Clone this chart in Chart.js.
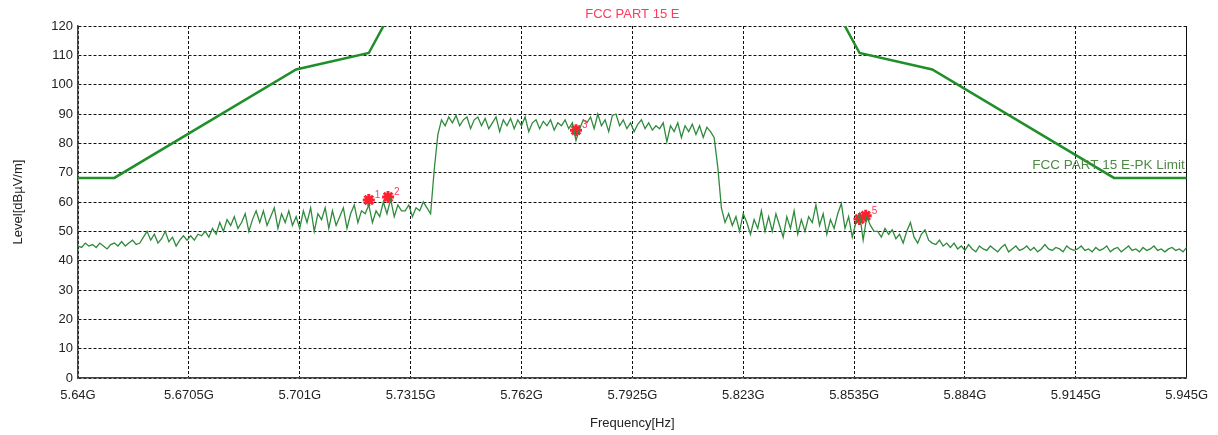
<!DOCTYPE html>
<html>
<head>
<meta charset="utf-8">
<script src="https://cdn.jsdelivr.net/npm/chart.js@4"></script>
<style>
  html, body { margin: 0; padding: 0; background: #fff; }
  #wrap { width: 1218px; height: 435px; position: relative; }
</style>
</head>
<body>
<div id="wrap"><canvas id="scan"></canvas></div>
<script>
// FCC 15.407 peak limit corners (GHz / dBuV/m)
const limitFreq  = [5.640, 5.650, 5.700, 5.720, 5.725, 5.850, 5.855, 5.875, 5.925, 5.945];
const limitLevel = [68.2, 68.2, 105.2, 110.8, 122.2, 122.2, 110.8, 105.2, 68.2, 68.2];

// measured sweep, 1 MHz per point starting at 5.640 GHz
const traceStart = 5.640;
const traceStep = 0.001;
const traceLevel = [
  45, 44.5, 46, 45, 45.5, 44.5, 46, 45, 44, 45.5,
  46, 45, 46.5, 45, 46, 47, 45.5, 46, 48, 50,
  47, 49, 46, 47.5, 50, 46.5, 48, 45, 47, 48.5,
  47, 48.5, 47, 49, 48.5, 50, 48, 51, 49, 53,
  50, 54, 52, 55, 51, 53, 56, 50, 54, 57,
  53, 57, 52, 55, 58, 51, 56, 53, 57, 52,
  55, 51, 57, 53, 58, 50, 56, 54, 58, 51,
  57, 52, 55, 58, 51, 56, 59, 53, 57, 56,
  59, 53, 57, 55, 60, 56, 61, 55, 59, 57,
  57, 59, 55, 58, 57, 60, 58, 56, 71, 83,
  88, 86, 89, 87, 89.5, 86, 88, 89, 85, 88,
  89, 86, 88.5, 85, 87, 89, 84, 88, 86, 88.5,
  85, 88, 86, 89, 84, 87, 88, 85, 87.5, 86,
  88, 84.5, 87, 86, 88, 85, 87, 81, 85, 88,
  87, 89, 85, 90, 86, 88, 84, 89.5, 90, 86,
  88, 85, 87, 84, 86.5, 88, 85, 87, 84.5, 86,
  85, 87, 80.5, 86, 84, 87, 82, 86, 84, 86.5,
  83, 86, 82, 85.5, 84, 82, 72, 58, 53, 56,
  52, 55, 50, 56, 53, 49, 54, 51, 57, 50,
  55, 50, 56, 52, 48, 55, 51, 57, 49, 54,
  50, 55, 53, 59, 52, 56, 49, 54, 51, 56,
  59.5, 51, 55, 48, 53, 56, 47, 55, 52, 50,
  50, 48, 51, 49, 50.5, 47.5, 49, 46, 50, 53,
  48, 46, 49, 50.5, 47, 46, 45.5, 47, 45, 46,
  44.5, 46, 44, 45, 43.5, 45.5, 44, 43, 45, 44,
  43.5, 45, 44, 43, 44.5, 45.5, 43, 44, 45, 43.5,
  44, 45, 43.5, 44.5, 43, 44, 45.5, 44, 43.5, 44.5,
  44, 43, 45, 44, 43.5, 44, 45, 43.5, 44, 43,
  44.5, 43.5, 44, 45, 43, 44, 44.5, 43, 44, 45,
  43.5, 44, 43, 44.5, 43.5, 44, 45, 43.5, 44, 43,
  44, 44.5, 43.5, 44, 43, 44.5
];

// peak markers (label of marker 4 sits under marker 5)
const markerFreq  = [5.7200, 5.7253, 5.7770, 5.8550, 5.8567];
const markerLevel = [60.7, 61.7, 84.5, 54.2, 55.3];
const markerLabel = ['1', '2', '3', '', '5'];

const xTickValues = [5.64, 5.6705, 5.701, 5.7315, 5.762, 5.7925, 5.823, 5.8535, 5.884, 5.9145, 5.945];
const xTickLabels = ['5.64G', '5.6705G', '5.701G', '5.7315G', '5.762G', '5.7925G', '5.823G', '5.8535G', '5.884G', '5.9145G', '5.945G'];

const chartTitle = 'FCC PART 15 E';
const limitName = 'FCC PART 15 E-PK Limit';

const FONT = '"Liberation Sans", Arial, sans-serif';

const limitPoints = limitFreq.map((f, i) => ({ x: f, y: limitLevel[i] }));
const tracePoints = traceLevel.map((v, i) => ({ x: traceStart + i * traceStep, y: v }));
const markerPoints = markerFreq.map((f, i) => ({ x: f, y: markerLevel[i] }));

const textPlugin = {
  id: 'scanText',
  afterDraw(chart) {
    const { ctx, chartArea } = chart;
    ctx.save();
    // heading above the plot
    ctx.font = '13px ' + FONT;
    ctx.fillStyle = '#ff3a5c';
    ctx.textAlign = 'center';
    ctx.textBaseline = 'middle';
    ctx.fillText(chartTitle, (chartArea.left + chartArea.right) / 2, 14);

    // limit line name, right aligned inside the plot
    ctx.font = '13.5px ' + FONT;
    ctx.fillStyle = '#4f8a45';
    ctx.textAlign = 'right';
    const yl = chart.scales.y.getPixelForValue(72.5);
    ctx.fillText(limitName, chartArea.right - 2, yl);

    // marker numbers
    const meta = chart.getDatasetMeta(2);
    ctx.font = '10px ' + FONT;
    ctx.fillStyle = '#ff3a5c';
    ctx.textAlign = 'left';
    meta.data.forEach((pt, i) => {
      if (markerLabel[i]) ctx.fillText(markerLabel[i], pt.x + 6, pt.y - 5);
    });
    ctx.restore();
  }
};

new Chart(document.getElementById('scan'), {
  type: 'line',
  data: {
    datasets: [
      {
        label: limitName,
        data: limitPoints,
        borderColor: '#1f8f2a',
        borderWidth: 2.5,
        pointRadius: 0,
        tension: 0
      },
      {
        label: 'Trace',
        data: tracePoints,
        borderColor: '#2f8a3c',
        borderWidth: 1.3,
        pointRadius: 0,
        tension: 0
      },
      {
        label: 'Markers',
        data: markerPoints,
        showLine: false,
        pointStyle: 'star',
        pointRadius: 6,
        borderWidth: 3,
        borderColor: '#ff1f2f',
        backgroundColor: '#ff1f2f'
      }
    ]
  },
  options: {
    responsive: true,
    maintainAspectRatio: false,
    animation: false,
    layout: { padding: { left: 0, right: 31, top: 26, bottom: 0 } },
    plugins: {
      legend: { display: false },
      tooltip: { enabled: false },
      title: { display: false }
    },
    scales: {
      x: {
        type: 'linear',
        min: 5.64,
        max: 5.945,
        afterBuildTicks(scale) {
          scale.ticks = xTickValues.map(v => ({ value: v }));
        },
        afterFit(scale) { scale.height = 57; },
        ticks: {
          autoSkip: false,
          maxRotation: 0,
          padding: 10,
          color: '#222',
          font: { family: FONT, size: 13 },
          callback: (v, i) => xTickLabels[i]
        },
        grid: { color: '#111', lineWidth: 1, drawTicks: false },
        border: {
          display: true,
          color: '#444',
          width: 1.5,
          dash: c => (c.index === xTickValues.length - 1 ? [] : [3, 2])
        },
        title: {
          display: true,
          text: 'Frequency[Hz]',
          color: '#222',
          font: { family: FONT, size: 13 },
          padding: { top: 0, bottom: 4 }
        }
      },
      y: {
        min: 0,
        max: 120,
        afterFit(scale) { scale.width = 78; },
        ticks: {
          stepSize: 10,
          padding: 5,
          color: '#222',
          font: { family: FONT, size: 13 }
        },
        grid: { color: '#111', lineWidth: 1, drawTicks: false },
        border: { display: true, color: '#444', width: 1.5, dash: [3, 2] },
        title: {
          display: true,
          text: 'Level[dBµV/m]',
          color: '#222',
          font: { family: FONT, size: 13 },
          padding: { top: 11, bottom: 0 }
        }
      }
    }
  },
  plugins: [textPlugin]
});
</script>
</body>
</html>
